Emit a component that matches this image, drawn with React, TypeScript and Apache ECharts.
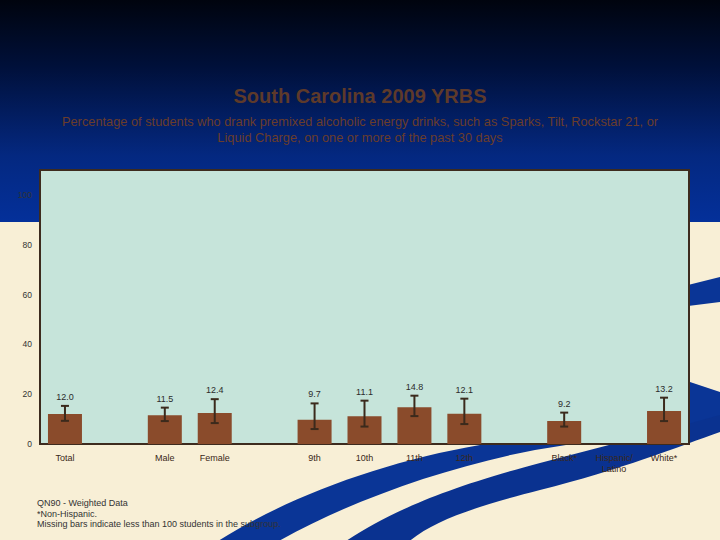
import React, { useEffect, useRef } from 'react';
import * as echarts from 'echarts';

const categories = ['Total', '', 'Male', 'Female', '', '9th', '10th', '11th', '12th', '', 'Black*', 'Hispanic/\nLatino', 'White*'];
const percents = [12.0, null, 11.5, 12.4, null, 9.7, 11.1, 14.8, 12.1, null, 9.2, null, 13.2];
const ciLower = [9.3, null, 9.2, 8.4, null, 6.0, 7.0, 11.2, 8.0, null, 7.0, null, 9.2];
const ciUpper = [15.3, null, 14.6, 18.0, null, 16.3, 17.4, 19.4, 18.2, null, 12.6, null, 18.6];
const footnotes = ['QN90 - Weighted Data', '*Non-Hispanic.', 'Missing bars indicate less than 100 students in the subgroup.'];

const FONT = '"Liberation Sans", Arial, sans-serif';
const BAR = '#8a4b2b';
const ERR = '#3b2a1c';
const BLUE = '#0a3596';

echarts.graphic.registerShape(
  'swooshOne',
  echarts.graphic.extendPath(
    'M212 545 C 280 500, 380 462, 480 445 L 690 382 L 720 392 L 720 420 L 690 425 L 535 450 C 440 468, 340 505, 272 545 Z',
    {}
  )
);
echarts.graphic.registerShape(
  'swooshTwo',
  echarts.graphic.extendPath(
    'M340 545 C 380 518, 430 492, 540 463 C 600 447, 660 432, 720 415 L 720 432 C 680 446, 620 470, 540 490 C 470 508, 430 522, 405 545 Z',
    {}
  )
);

const App: React.FC = () => {
  const chartRef = useRef<HTMLDivElement | null>(null);

  useEffect(() => {
    const chart = echarts.init(chartRef.current!, null, { renderer: 'svg' });

    // error bars and their value labels, only where a bar exists
    const errData = categories
      .map((_, i) => [i, ciLower[i], ciUpper[i], percents[i]])
      .filter((d) => d[3] !== null);

    const option: echarts.EChartsOption = {
      animation: false,
      backgroundColor: '#f8efd6',
      textStyle: { fontFamily: FONT },
      grid: {
        left: 40,
        right: 31,
        top: 170,
        bottom: 96,
        show: true,
        backgroundColor: '#c6e4da',
        borderColor: '#3d2b1e',
        borderWidth: 2,
      },
      xAxis: {
        type: 'category',
        data: categories,
        axisLine: { show: false },
        axisTick: { show: false },
        axisLabel: { interval: 0, fontSize: 9, color: '#3a2818', margin: 8, lineHeight: 11, fontFamily: FONT },
      },
      yAxis: {
        type: 'value',
        min: 0,
        max: 110,
        interval: 20,
        axisLine: { show: false },
        axisTick: { show: false },
        splitLine: { show: false },
        axisLabel: { fontSize: 8.5, color: '#333', margin: 8, showMaxLabel: false, fontFamily: FONT },
      },
      graphic: [
        {
          type: 'rect',
          z: -10,
          shape: { x: 0, y: 0, width: 720, height: 222 },
          style: {
            fill: new echarts.graphic.LinearGradient(0, 0, 0, 1, [
              { offset: 0, color: '#00040e' },
              { offset: 0.3, color: '#00103a' },
              { offset: 0.7, color: '#042880' },
              { offset: 1, color: '#04309a' },
            ]),
          },
        },
        { type: 'polygon', z: -10, shape: { points: [[688, 285], [720, 277], [720, 302], [688, 306]] }, style: { fill: BLUE } },
        { type: 'swooshOne', z: -10, x: 0, y: 0, style: { fill: BLUE } } as any,
        { type: 'swooshTwo', z: -10, x: 0, y: 0, style: { fill: '#0a3290' } } as any,
        {
          type: 'text',
          z: 10,
          x: 360,
          y: 96,
          style: { text: 'South Carolina 2009 YRBS', fill: '#5e3a2a', font: `bold 20px ${FONT}`, textAlign: 'center', textVerticalAlign: 'middle' },
        },
        {
          type: 'text',
          z: 10,
          x: 360,
          y: 113,
          style: {
            text: 'Percentage of students who drank premixed alcoholic energy drinks, such as Sparks, Tilt, Rockstar 21, or\nLiquid Charge, on one or more of the past 30 days',
            fill: '#6a3d2b',
            font: `12.8px ${FONT}`,
            lineHeight: 16,
            textAlign: 'center',
            textVerticalAlign: 'top',
          },
        },
        ...footnotes.map((t, i) => ({
          type: 'text' as const,
          z: 10,
          x: 37,
          y: 503 + i * 10.5,
          style: { text: t, fill: '#333', font: `9px ${FONT}`, textVerticalAlign: 'middle' },
        })),
      ],
      series: [
        {
          type: 'bar',
          data: percents.map((v) => (v === null ? '-' : v)),
          barWidth: 34,
          itemStyle: { color: BAR },
        },
        {
          type: 'custom',
          data: errData,
          encode: { x: 0, y: [1, 2] },
          z: 5,
          renderItem: (params: any, api: any) => {
            const idx = api.value(0);
            const hi = api.coord([idx, api.value(2)]);
            const lo = api.coord([idx, api.value(1)]);
            const cap = 4;
            const st = { stroke: ERR, lineWidth: 2 };
            return {
              type: 'group',
              children: [
                { type: 'line', shape: { x1: hi[0], y1: hi[1], x2: lo[0], y2: lo[1] }, style: st },
                { type: 'line', shape: { x1: hi[0] - cap, y1: hi[1], x2: hi[0] + cap, y2: hi[1] }, style: st },
                { type: 'line', shape: { x1: lo[0] - cap, y1: lo[1], x2: lo[0] + cap, y2: lo[1] }, style: st },
                {
                  type: 'text',
                  x: hi[0],
                  y: hi[1] - 9,
                  style: {
                    text: Number(api.value(3)).toFixed(1),
                    fill: '#2b2b2b',
                    font: `9px ${FONT}`,
                    textAlign: 'center',
                    textVerticalAlign: 'middle',
                  },
                },
              ],
            };
          },
        },
      ],
    };

    chart.setOption(option);
    return () => chart.dispose();
  }, []);

  return <div ref={chartRef} style={{ width: 720, height: 540, position: 'fixed', left: 0, top: 0 }} />;
};

export default App;
